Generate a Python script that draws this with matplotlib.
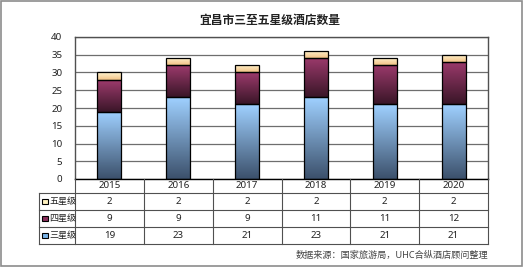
import numpy as np
import matplotlib
matplotlib.use("Agg")
import matplotlib.pyplot as plt
from matplotlib.colors import LinearSegmentedColormap
from matplotlib.patches import Rectangle

plt.rcParams['font.family'] = ['Noto Sans', 'Noto Sans CJK SC', 'DejaVu Sans']

# data
years = ["2015", "2016", "2017", "2018", "2019", "2020"]
series_names = ["五星级", "四星级", "三星级"]
five_star = [2, 2, 2, 2, 2, 2]
four_star = [9, 9, 9, 11, 11, 12]
three_star = [19, 23, 21, 23, 21, 21]

# (top colour, bottom colour) per series
grad_three = ("#9fd0ff", "#3c516c")
grad_four = ("#9c3a6c", "#3a1628")
grad_five = ("#fff4d2", "#f2c487")
legend_colors = {"五星级": "#fff2c0", "四星级": "#8a2f5c", "三星级": "#7ab4e8"}

W, H = 523, 267
fig = plt.figure(figsize=(W / 100, H / 100), dpi=100)

# plot area in pixels
px_l, px_r, px_t, px_b = 75, 488, 37, 179
ax = fig.add_axes([px_l / W, 1 - px_b / H, (px_r - px_l) / W, (px_b - px_t) / H])

x = np.arange(len(years))
width = 0.35


def grad_bars(bottom, values, colors):
    bars = ax.bar(x, values, width, bottom=bottom, facecolor="none",
                  edgecolor="black", linewidth=0.9, zorder=3)
    cmap = LinearSegmentedColormap.from_list("g", [colors[1], colors[0]])
    grad = np.linspace(0, 1, 64).reshape(-1, 1)
    for b in bars:
        x0, y0 = b.get_x(), b.get_y()
        im = ax.imshow(grad, cmap=cmap, aspect="auto", origin="lower",
                       extent=[x0, x0 + b.get_width(), y0, y0 + b.get_height()],
                       zorder=2)
        im.set_clip_path(b)
    return bars


b0 = np.zeros(len(years))
grad_bars(b0, three_star, grad_three)
b1 = b0 + np.array(three_star)
grad_bars(b1, four_star, grad_four)
b2 = b1 + np.array(four_star)
grad_bars(b2, five_star, grad_five)

ax.set_xlim(-0.5, len(years) - 0.5)
ax.set_ylim(0, 40)
ax.set_yticks(range(0, 41, 5))
ax.set_xticks([])
ax.tick_params(axis="y", length=0, labelsize=7, pad=9, labelcolor="#222222")
ax.grid(axis="y", color="#6e6e6e", linewidth=0.9, zorder=0)
for s in ax.spines.values():
    s.set_color("#505050")
    s.set_linewidth(1)
ax.spines["bottom"].set_color("black")

# overlay axes in pixel coordinates for title, table and border
ov = fig.add_axes([0, 0, 1, 1])
ov.set_xlim(0, W)
ov.set_ylim(H, 0)
ov.axis("off")
ov.patch.set_alpha(0)

ov.add_patch(Rectangle((1, 1), W - 2, H - 2, fill=False, edgecolor="#8c8c8c", linewidth=1.2))
ov.text(270, 20, "宜昌市三至五星级酒店数量", ha="center", va="center",
        fontsize=8.5, fontweight="bold", color="#222222")

# table
col_w = (px_r - px_l) / len(years)
leg_l = 39
row_edges = [px_b, 193, 210, 227, 244]
line_c = "#505050"
for yv in row_edges[1:]:
    ov.plot([leg_l, px_r], [yv, yv], color=line_c, lw=0.8)
for i in range(len(years) + 1):
    xv = px_l + i * col_w
    ov.plot([xv, xv], [px_b, row_edges[-1]], color=line_c, lw=0.8)
ov.plot([leg_l, leg_l], [row_edges[1], row_edges[-1]], color=line_c, lw=0.8)

for i, yr in enumerate(years):
    ov.text(px_l + (i + 0.5) * col_w, (row_edges[0] + row_edges[1]) / 2, yr,
            ha="center", va="center", fontsize=7, color="#222222")

table_rows = [five_star, four_star, three_star]
for r, (name, vals) in enumerate(zip(series_names, table_rows)):
    yc = (row_edges[r + 1] + row_edges[r + 2]) / 2
    ov.add_patch(Rectangle((leg_l + 3, yc - 2.8), 5.6, 5.6,
                           facecolor=legend_colors[name], edgecolor="black", lw=0.8))
    ov.text(leg_l + 10, yc, name, ha="left", va="center", fontsize=6.5, color="#222222")
    for i, v in enumerate(vals):
        ov.text(px_l + (i + 0.5) * col_w, yc, str(v), ha="center", va="center",
                fontsize=7, color="#222222")

ov.text(px_r, 255, "数据来源：国家旅游局，UHC合纵酒店顾问整理", ha="right", va="center",
        fontsize=6.6, color="#444444")

fig.savefig("out.png", dpi=100)
